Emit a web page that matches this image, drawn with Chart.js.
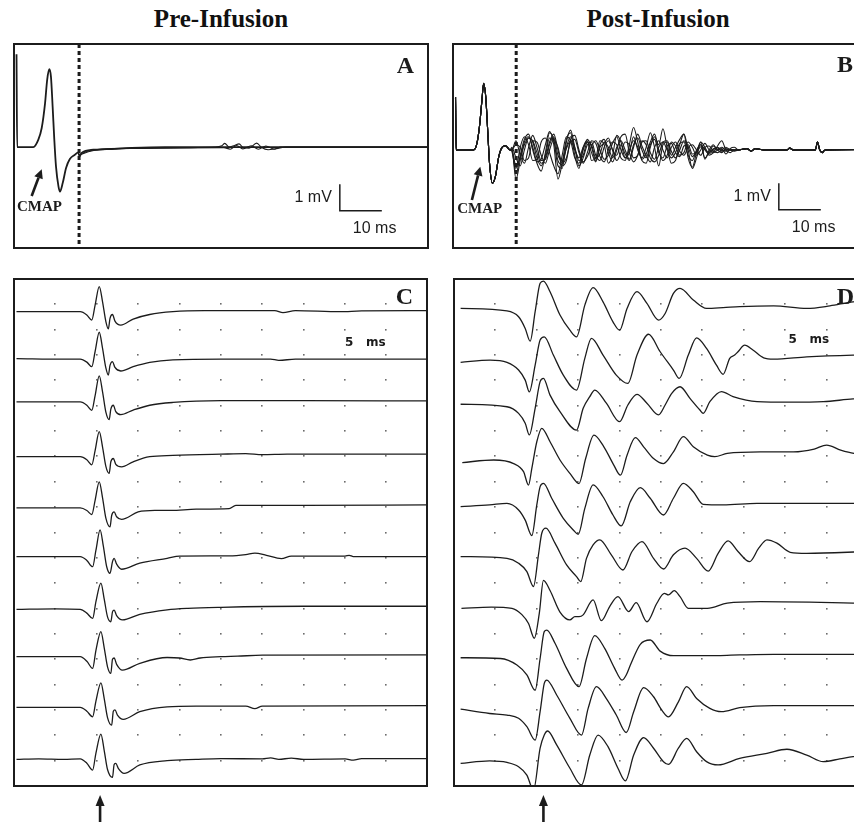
<!DOCTYPE html>
<html>
<head>
<meta charset="utf-8">
<title>Pre- and post-infusion recordings</title>
<script src="https://cdn.jsdelivr.net/npm/chart.js@4.4.1/dist/chart.umd.min.js"></script>
<style>
  html, body { margin: 0; padding: 0; background: #fff; }
  body { position: relative; width: 854px; height: 822px; overflow: hidden; }
  canvas { position: absolute; left: 0; top: 0; }
  .heading { position: absolute; top: 5px; transform: translateX(-50%); white-space: nowrap;
             font: bold 25px/28px "Liberation Serif", "Times New Roman", serif; color: #111; }
</style>
</head>
<body>
<div class="heading" style="left:221px">Pre-Infusion</div>
<div class="heading" style="left:658px">Post-Infusion</div>
<canvas id="panelA" width="880" height="822"></canvas>
<canvas id="panelB" width="880" height="822"></canvas>
<canvas id="panelC" width="880" height="822"></canvas>
<canvas id="panelD" width="880" height="822"></canvas>
<script>
// ---------- A: pre-infusion, superimposed sweeps  [ms, mV] ----------
const sweepA1 = [[0.6,3.5],[0.75,0],[4.6,0],[5.8,0.28],[6.6,0.72],[7.4,1.66],[7.9,2.54],[8.4,2.94],[8.8,2.66],
  [9.2,1.53],[9.6,0.28],[10.0,-0.73],[10.6,-1.49],[10.95,-1.68],[11.6,-1.36],[12.4,-0.79],[13.3,-0.45],
  [14.5,-0.29],[15.3,-0.2],[15.6,-0.35],[16.1,-0.22],[18.9,-0.1],[22,-0.08],[28,-0.03],[36,0],[98.6,0]];
const sweepA2 = [[15.5,-0.3],[16.1,-0.24],[19,-0.11],[30,-0.04],[48,0],[49.5,0.05],[50.2,0.14],[51.2,0],
  [52.5,0.06],[53.6,0.12],[54.6,-0.02],[56,-0.04],[57.8,0.15],[59,-0.02],[60.5,-0.1],[62.5,-0.06],[64.8,0],[98.6,0]];
const sweepA3 = [[15.5,-0.32],[16.1,-0.27],[19,-0.13],[30,-0.05],[50,-0.02],[51.5,-0.08],[53,0.06],[54.5,-0.07],
  [56.5,0.05],[58.2,-0.08],[60,0.04],[62,-0.08],[63.5,0],[98.6,0]];

// ---------- B: post-infusion, CMAP followed by repetitive discharges ----------
const cmapB = [[0.6,2.0],[0.75,0],[4.9,0],[5.7,0.25],[6.3,0.88],[6.9,1.89],[7.3,2.52],[7.8,2.0],[8.3,0.63],
  [8.7,-0.5],[9.4,-1.26],[10.1,-1.0],[10.9,-0.25],[11.7,0.1],[12.5,0.16],[13.6,0]];
const tNoiseB = [14,15,16,17,18,19,20,21,22,23, 24,25,26,27,28,29,30,31,32,33, 34,35,36,37,38,39,40,41,42,43,
  44,45,46,47,48,49,50,51,52,53, 54,55,56,57,58,59,60,61,62,63, 64,65,66,67,68];
const noiseB1 = [0,-0.6,-0.3,0.2,0.45,0.3,-0.3,-0.6,-0.2,0.45, 0.35,-0.4,-0.55,0.1,0.5,0.1,-0.4,-0.2,0.3,0.2,
  -0.3,-0.15,0.3,0.1,-0.3,0.1,0.35,0,-0.35,0.2, 0.45,0,-0.3,0.2,0.4,-0.1,-0.3,0.15,0.25,-0.1,
  -0.25,0.15,0.2,-0.15,-0.1,0.12,0.05,-0.1,0.05,0.08, -0.05,0,0.03,0,0];
const noiseB2 = [0.05,-1.1,-0.4,0.3,0.5,0.1,-0.5,-0.8,-0.1,0.65, 0.4,-0.6,-0.7,0.3,0.75,0.1,-0.6,-0.3,0.2,0.3,
  -0.2,-0.4,0.1,0.35,0,-0.4,-0.1,0.3,0.2,-0.3, -0.2,0.3,0.35,-0.1,-0.35,0.1,0.3,0,-0.3,-0.1,
  0.25,0.3,-0.2,-0.4,0,0.2,0,-0.15,0,0.1, 0,-0.05,0,0,0];
const noiseB3 = [0,0.2,0.1,-0.4,-0.3,0.35,0.3,-0.2,-0.5,0, 0.4,0.1,-0.5,-0.3,0.3,0.4,-0.1,-0.5,-0.1,0.35,
  0.25,-0.25,-0.45,0,0.3,0.2,-0.3,-0.4,0.2,0.85, 0.3,-0.4,-0.5,0.1,0.5,0.2,0.8,0.1,-0.5,-0.4,
  0.2,0.6,0,-0.7,-0.3,0.3,0.1,-0.2,-0.1,0.15, 0.35,0,-0.1,0,0];
const noiseB4 = [-0.05,-0.7,0.1,0.5,0.2,-0.4,-0.35,0.3,0.45,-0.1, -0.6,-0.9,-0.2,0.5,0.35,-0.3,-0.5,0,0.4,0.1,
  -0.4,0.2,0.4,-0.1,-0.45,0,0.5,0.6,-0.1,-0.45, -0.2,0.35,0.2,-0.3,-0.45,-0.2,0.3,0.35,-0.05,-0.3,
  0,0.35,0.1,-0.25,-0.05,0.2,-0.3,-0.1,0.15,0, -0.1,0.05,0,0,0];
const noiseB5 = [0.1,-0.3,-0.6,0,0.45,0.35,-0.1,-0.5,-0.3,0.3, 0.6,0,-0.6,-0.4,0.4,0.55,0,-0.45,-0.25,0.15,
  0.35,0,-0.35,-0.2,0.25,0.5,0,-0.3,0,0.35, 0.1,-0.35,-0.15,0.3,0.6,0,-0.4,-0.2,0.3,0.15,
  -0.2,-0.1,0.3,0.1,-0.2,0,0.25,0,-0.1,0, 0.1,0,0,0,0];
const noiseB6 = [0,0.35,-0.2,-0.5,0.1,0.55,0.1,-0.4,-0.35,0.2, 0.5,-0.2,-0.4,0.05,0.35,0,-0.3,0.1,0.3,-0.1,
  -0.45,0.1,0.25,0.45,0,-0.2,0.2,-0.15,-0.4,0.1, 0.6,0.15,-0.2,-0.45,0.1,0.35,0,-0.3,0.1,0.3,
  -0.05,-0.2,0.1,0.2,0,-0.2,0.1,0.15,-0.05,-0.1, 0,0.1,0,-0.05,0];
const noiseB7 = [0,-0.9,-0.2,0.4,0.6,0,-0.45,-0.35,0.2,0.7, 0.2,-1.1,-0.5,0.4,0.65,-0.2,-0.7,0.1,0.35,-0.4,
  -0.3,0.35,0.2,-0.5,-0.2,0.55,0.3,-0.3,-0.1,0.5, 0,-0.3,0.1,0.65,0.1,-0.6,0.2,0.3,-0.2,0.1,
  0.4,0.6,-0.3,-0.65,-0.1,0.3,-0.35,0,0.2,0, 0.05,-0.15,0.05,0.1,0];
const tailB = [[70,0.05],[71,-0.05],[72,0.05],[74,0],[79.5,0],[80.2,0.07],[81,0],[86.3,0],[86.8,0.3],
  [87.3,0.02],[87.9,-0.1],[88.6,0],[98.6,0.02]];

// ---------- C: pre-infusion consecutive sweeps  [ms, div] ----------
const baseC = [18.71, 16.84, 15.15, 12.99, 10.97, 9.05, 6.97, 5.1, 3.1, 1.05];
const traceC1 = [[0.3,0],[8.0,0],[8.8,-0.13],[9.4,-0.33],[9.8,0.26],[10.3,0.99],[10.7,0.39],[11.1,-0.39],[11.4,-0.68],
  [11.6,-0.26],[11.9,-0.11],[12.2,-0.37],[12.9,-0.53],[14.4,-0.29],[16.4,-0.11],[19.2,0],[23,0.04],[31.5,0.04],
  [32.5,-0.04],[34,0.04],[39.4,0],[42,0.03],[49.9,0.04]];
const traceC2 = [[0.3,0.02],[6,0],[8.0,0],[8.8,-0.12],[9.4,-0.3],[9.8,0.3],[10.3,1.06],[10.7,0.42],[11.1,-0.35],
  [11.4,-0.63],[11.6,-0.25],[11.9,-0.1],[12.2,-0.33],[12.9,-0.47],[14.4,-0.3],[16.4,-0.13],[19.2,-0.03],[25,0],
  [31,0],[32,-0.05],[34,0],[49.9,0]];
const traceC3 = [[0.3,0],[8.0,0],[8.8,-0.13],[9.4,-0.33],[9.8,0.25],[10.3,1.03],[10.7,0.4],[11.1,-0.4],[11.5,-0.7],
  [11.7,-0.28],[12.0,-0.13],[12.3,-0.38],[12.9,-0.5],[14.4,-0.32],[16.4,-0.13],[19.2,-0.02],[25,0.05],[35,0.05],[49.9,0.04]];
const traceC4 = [[0.3,0],[8.0,0],[8.8,-0.12],[9.4,-0.32],[9.8,0.24],[10.3,0.99],[10.7,0.38],[11.1,-0.38],[11.5,-0.66],
  [11.7,-0.2],[12.0,-0.07],[12.3,-0.3],[13.0,-0.4],[14.4,-0.2],[16.4,0],[19.2,0.05],[25,0.1],[28,0.12],[30,0.08],
  [33,0.1],[36,0.1],[49.9,0.1]];
const traceC5 = [[0.3,0],[8.0,0],[8.8,-0.1],[9.4,-0.26],[9.8,0.3],[10.3,1.03],[10.7,0.4],[11.1,-0.4],[11.6,-0.75],
  [11.8,-0.3],[12.1,-0.16],[12.4,-0.35],[13.0,-0.45],[15.0,-0.16],[17.0,-0.1],[19,-0.1],[22,-0.05],[26,-0.03],
  [26.8,0.1],[35,0.1],[49.9,0.12]];
const traceC6 = [[0.3,0],[8.0,0],[8.8,-0.15],[9.5,-0.4],[9.9,0.25],[10.4,1.05],[10.8,0.4],[11.2,-0.4],[11.6,-0.66],
  [11.9,-0.2],[12.1,-0.07],[12.4,-0.3],[13.0,-0.5],[15.2,-0.26],[18.5,-0.07],[20,0.02],[26,0.03],[28,0.08],
  [29.1,0.14],[30.5,0.05],[32.3,-0.08],[33.5,0.02],[40,0.02],[40.5,0.05],[41,0],[49.9,0]];
const traceC7 = [[0.3,0],[5,0.02],[8.0,0],[8.8,-0.15],[9.5,-0.36],[9.9,0.3],[10.5,1.03],[10.9,0.4],[11.3,-0.3],
  [11.7,-0.49],[11.9,-0.1],[12.1,-0.03],[12.4,-0.25],[13.1,-0.42],[15.2,-0.2],[18.5,-0.02],[21,0.04],[25,0.08],
  [35,0.12],[49.9,0.12]];
const traceC8 = [[0.3,0],[8.0,0],[8.8,-0.18],[9.5,-0.46],[9.9,0.25],[10.5,0.99],[10.9,0.35],[11.3,-0.4],[11.7,-0.66],
  [11.9,-0.1],[12.1,-0.05],[12.4,-0.3],[13.1,-0.53],[15.2,-0.26],[18.5,-0.03],[20,-0.05],[21.3,-0.13],[22.5,-0.05],
  [25,0],[27,0.02],[30,0.06],[49.9,0.07]];
const traceC9 = [[0.3,0],[8.0,0],[8.8,-0.15],[9.5,-0.37],[9.9,0.25],[10.5,0.97],[10.9,0.35],[11.3,-0.4],[11.8,-0.7],
  [12.0,-0.15],[12.2,-0.1],[12.5,-0.3],[13.2,-0.47],[15.2,-0.17],[18.5,0.02],[22,0.05],[28,0.05],[29.1,-0.05],
  [30,0.05],[49.9,0.07]];
const traceC10 = [[0.3,0],[3,0.02],[6,0],[8.0,0.02],[8.8,-0.15],[9.5,-0.42],[9.9,0.25],[10.5,1.0],[10.9,0.35],
  [11.3,-0.4],[11.9,-0.71],[12.1,-0.2],[12.3,-0.16],[12.6,-0.35],[13.3,-0.55],[15.2,-0.22],[18.5,-0.05],[22,0],
  [25,0.03],[30,0.02],[31,0.06],[32,0],[33.5,0.05],[35,0],[40,0.02],[41,-0.03],[42,0.03],[49.9,0.03]];

// ---------- D: post-infusion consecutive sweeps  [ms, div] ----------
const baseD = [18.84, 16.71, 15.03, 12.79, 11.02, 9.05, 7.01, 5.06, 3.06, 0.96];
const traceD1 = [[0.8,0],[6.4,-0.1],[7.8,-0.33],[8.6,-0.79],[9.2,-1.29],[9.8,-0.13],[10.4,0.99],[10.8,1.08],
  [11.6,0.66],[12.8,-0.26],[14.0,-0.86],[14.8,-1.12],[15.8,0.13],[16.8,0.82],[18.0,0.26],[19.2,-0.53],[20.0,-0.86],
  [20.9,0],[22.1,0.66],[23.3,0.2],[24.7,-0.46],[25.5,-0.2],[26.5,0.59],[27.3,0.79],[28.9,0.33],[30.5,0],
  [32.5,0.03],[34.5,0.07],[38.6,0.1],[42.6,0],[45.4,0.1],[48.2,0.26],[50,0.3]];
const traceD2 = [[0.8,0],[4.35,0.09],[6.4,0],[7.8,-0.3],[8.6,-0.7],[9.1,-1.16],[9.8,-0.11],[10.4,0.88],[10.9,1.01],
  [12.0,0.29],[13.2,-0.5],[14.8,-1.09],[15.8,0.16],[16.6,0.95],[18.0,0.29],[19.6,-0.5],[21.0,-0.83],[22.1,0.29],
  [23.5,1.11],[24.9,0.42],[26.5,-0.3],[27.2,-0.63],[28.3,0.29],[29.3,0.97],[30.5,0.55],[31.7,-0.11],[32.5,-0.47],
  [33.3,0.16],[33.9,0.29],[34.3,0.42],[35.1,0.68],[36.1,0.49],[37.4,0.18],[38.6,0.13],[42.6,0.22],[48.2,0.29],[50,0.3]];
const traceD3 = [[0.8,0.03],[6.4,-0.07],[7.8,-0.33],[8.6,-0.72],[9.1,-1.18],[9.8,-0.13],[10.4,0.92],[10.8,1.05],
  [11.6,0.39],[12.8,-0.26],[14.8,-0.99],[15.6,-0.13],[16.4,0.33],[17.0,0.59],[18.4,0.07],[20.0,-0.66],[21.0,0],
  [22.1,0.42],[23.3,0.07],[24.7,-0.39],[25.5,0],[26.3,0.46],[27.3,0.72],[28.5,0.26],[29.7,-0.2],[30.1,-0.33],
  [30.9,0.13],[32.3,0.53],[33.7,0.33],[36.6,0.13],[40.6,0.11],[44.6,0.13],[48.2,0.24],[50,0.26]];
const traceD4 = [[1.0,-0.03],[4.8,0.07],[7.2,-0.07],[8.4,-0.39],[9.0,-0.92],[9.4,-0.26],[10.0,0.79],[10.6,1.32],
  [11.6,0.79],[12.8,0.07],[14.0,-0.46],[15.1,-0.86],[15.9,0.13],[16.9,1.05],[18.1,0.59],[19.3,-0.13],[20.1,-0.53],
  [20.9,0.26],[21.9,0.95],[22.9,0.59],[24.1,0.13],[25.3,-0.07],[26.5,0.39],[27.7,0.99],[28.9,0.59],[30.6,0.26],
  [31.5,0.2],[33,0.33],[37.0,0.39],[41.0,0.39],[43.5,0.5],[45.0,0.66],[46.7,0.46],[48.3,0.33],[50,0.3]];
const traceD5 = [[0.8,0],[4.3,0.07],[6.4,0.13],[7.8,-0.13],[8.6,-0.53],[9.4,-1.14],[10.0,0.07],[10.4,0.79],[10.8,0.92],
  [11.8,0.33],[13.2,-0.46],[14.4,-0.92],[15.0,-1.09],[15.8,-0.07],[16.8,0.86],[18.0,0.39],[19.2,-0.33],[20.2,-0.76],
  [21.3,0.2],[22.5,0.75],[23.7,0.33],[25.3,-0.33],[26.5,0.33],[27.7,0.92],[28.9,0.59],[30.1,0.09],[32.5,0.07],
  [36.6,0.13],[42.6,0.13],[50,0.13]];
const traceD6 = [[0.8,0],[6.4,-0.07],[7.8,-0.26],[8.8,-0.59],[9.6,-1.18],[10.2,0.07],[10.6,0.92],[11.1,1.12],
  [12.2,0.53],[13.6,-0.33],[14.8,-0.79],[15.3,-0.99],[16.0,-0.07],[16.8,0.46],[17.6,0.66],[19.0,0.07],[20.4,-0.53],
  [21.5,0.2],[22.7,0.59],[24.1,-0.07],[25.3,-0.49],[26.5,0.07],[27.9,0.33],[29.3,-0.07],[30.7,-0.57],[31.9,0.13],
  [33.1,0.62],[34.3,0.2],[35.7,-0.2],[36.8,0.33],[37.8,0.66],[39.0,0.53],[40.6,0.17],[42.6,0.13],[50,0.2]];
const traceD7 = [[0.9,0],[4.5,0.05],[7.0,0],[8.2,-0.25],[9.0,-0.6],[9.7,-1.18],[10.3,-0.2],[10.8,1.1],[11.6,0.7],
  [12.8,-0.15],[14.0,-0.46],[14.6,-0.33],[15.1,-0.33],[15.6,-0.26],[16.8,0.33],[17.8,-0.49],[18.8,0.07],[19.8,0.46],
  [21.1,-0.13],[22.0,0.22],[23.3,-0.53],[24.5,0.2],[25.4,0.59],[25.9,0.53],[26.6,0.7],[27.3,0.46],[28.3,0],
  [30.6,0],[33,0.2],[37,0.26],[50,0.2]];
const traceD8 = [[0.8,0],[5.6,-0.03],[7.6,-0.29],[8.8,-0.68],[9.8,-1.28],[10.4,-0.03],[10.9,1.03],[11.2,1.09],
  [12.2,0.57],[13.6,-0.42],[15.1,-1.14],[16.0,-0.03],[17.0,0.87],[18.2,0.37],[19.4,-0.42],[20.3,-0.88],[20.8,-0.68],
  [21.3,-0.29],[22.5,0.53],[23.7,0.7],[24.9,0.26],[26.5,0.08],[30.5,0.08],[34.5,0.11],[38.6,0.13],[50,0.13]];
const traceD9 = [[0.8,-0.03],[4.3,-0.2],[6.4,-0.26],[7.8,-0.39],[8.8,-0.72],[9.8,-1.25],[10.4,-0.13],[10.9,0.99],
  [11.2,1.12],[12.4,0.53],[14.0,-0.39],[15.4,-1.05],[16.2,0],[17.2,0.86],[18.4,0.39],[19.6,-0.26],[20.8,-0.95],
  [21.7,-0.13],[22.9,0.82],[24.1,0.46],[25.1,-0.07],[25.9,-0.33],[27.1,0.26],[28.1,0.86],[29.3,0.39],[30.9,0],
  [32.3,-0.13],[34.5,0.03],[38.6,0.11],[50,0.11]];
const traceD10 = [[0.8,-0.07],[4.3,0.03],[6.4,-0.03],[7.8,-0.2],[8.8,-0.53],[9.6,-1.12],[10.4,0.53],[10.9,1.05],
  [11.3,1.21],[12.4,0.66],[14.0,-0.26],[15.4,-0.92],[16.4,0.26],[17.4,1.05],[18.6,0.59],[19.8,-0.26],[20.7,-0.76],
  [21.7,0.26],[22.9,0.95],[24.1,0.53],[25.3,0],[25.9,-0.11],[27.1,0.53],[28.1,0.92],[29.3,0.39],[30.5,0],
  [31.9,-0.13],[34.5,0.13],[37.8,0.33],[40.2,0.49],[42.6,0.26],[44.6,0],[46.6,0.11],[48.2,0.2],[50,0.22]];

// dot grid of the sweep displays (every 5 ms, every division)
const gridTimes = [5, 10, 15, 20, 25, 30, 35, 40, 45];
const gridLevels = [1, 2, 3, 4, 5, 6, 7, 8, 9, 10, 11, 12, 13, 14, 15, 16, 17, 18, 19];

const INK = '#1c1c1c';
const CANVAS_W = 880, CANVAS_H = 822;

function pts(pairs, base = 0) {
  return pairs.map(([t, v]) => ({ x: t, y: v + base }));
}

function trace(data, width) {
  return { data, borderColor: INK, borderWidth: width, pointRadius: 0, fill: false,
           cubicInterpolationMode: 'monotone' };
}

function arrow(ctx, x0, y0, x1, y1, head, half, width) {
  const ang = Math.atan2(y1 - y0, x1 - x0);
  const bx = x1 - head * Math.cos(ang), by = y1 - head * Math.sin(ang);
  ctx.save();
  ctx.strokeStyle = INK; ctx.fillStyle = INK; ctx.lineWidth = width;
  ctx.beginPath(); ctx.moveTo(x0, y0); ctx.lineTo(bx, by); ctx.stroke();
  ctx.beginPath();
  ctx.moveTo(x1, y1);
  ctx.lineTo(bx + half * Math.sin(ang), by - half * Math.cos(ang));
  ctx.lineTo(bx - half * Math.sin(ang), by + half * Math.cos(ang));
  ctx.closePath(); ctx.fill();
  ctx.restore();
}

// frame, panel letter and the annotations of each panel
function decor(o) {
  return {
    id: 'decor',
    beforeDatasetsDraw(chart) {
      if (!o.dots) return;
      const { ctx, scales: { x, y } } = chart;
      ctx.save(); ctx.fillStyle = '#6c6c6c';
      gridTimes.forEach(t => gridLevels.forEach(v => {
        ctx.fillRect(Math.round(x.getPixelForValue(t)) - 1, Math.round(y.getPixelForValue(v)) - 1, 1.6, 1.6);
      }));
      ctx.restore();
    },
    afterDatasetsDraw(chart) {
      const { ctx, chartArea: a, scales: { x, y } } = chart;
      ctx.save();
      ctx.strokeStyle = INK; ctx.fillStyle = INK;

      if (o.stim != null) {   // stimulus marker
        const sx = x.getPixelForValue(o.stim);
        ctx.lineWidth = 3; ctx.setLineDash([4, 3]);
        ctx.beginPath(); ctx.moveTo(sx, a.top); ctx.lineTo(sx, a.bottom); ctx.stroke();
        ctx.setLineDash([]);
      }

      ctx.lineWidth = 2;
      ctx.strokeRect(a.left, a.top, a.right - a.left, a.bottom - a.top);

      ctx.font = 'bold 24px "Liberation Serif", "Times New Roman", serif';
      ctx.textAlign = 'right'; ctx.textBaseline = 'alphabetic';
      ctx.fillText(o.letter, a.right - 14, a.top + o.letterDrop);

      if (o.bar) {   // 1 mV / 10 ms calibration
        const x0 = x.getPixelForValue(o.bar.t), x1 = x.getPixelForValue(o.bar.t + 10);
        const y0 = y.getPixelForValue(o.bar.v), y1 = y.getPixelForValue(o.bar.v + 1);
        ctx.lineWidth = 1.5;
        ctx.beginPath(); ctx.moveTo(x0, y1); ctx.lineTo(x0, y0); ctx.lineTo(x1, y0); ctx.stroke();
        ctx.font = '16px "Liberation Sans", Arial, sans-serif';
        ctx.textBaseline = 'middle';
        ctx.textAlign = 'right'; ctx.fillText('1 mV', x0 - 8, (y0 + y1) / 2);
        ctx.textAlign = 'left'; ctx.fillText('10 ms', x0 + 13, y0 + 18);
      }

      if (o.cmap) {
        const c = o.cmap;
        ctx.font = 'bold 15px "Liberation Serif", "Times New Roman", serif';
        ctx.textAlign = 'left'; ctx.textBaseline = 'alphabetic';
        ctx.fillText('CMAP', x.getPixelForValue(c.text[0]), y.getPixelForValue(c.text[1]));
        arrow(ctx, x.getPixelForValue(c.tail[0]), y.getPixelForValue(c.tail[1]),
              x.getPixelForValue(c.head[0]), y.getPixelForValue(c.head[1]), 9, 4.5, 2.6);
      }

      if (o.msLabel) {
        ctx.font = 'bold 12px "DejaVu Sans", sans-serif';
        ctx.textAlign = 'left'; ctx.textBaseline = 'middle';
        ctx.fillText('5   ms', x.getPixelForValue(o.msLabel.t), y.getPixelForValue(o.msLabel.v));
      }

      if (o.pointer != null) {   // arrow under the sweep stack
        const px = x.getPixelForValue(o.pointer);
        arrow(ctx, px, CANVAS_H + 2, px, a.bottom + 9, 11, 4.5, 2.6);
      }
      ctx.restore();
    }
  };
}

function panel(id, box, xMax, yMin, yMax, datasets, o) {
  return new Chart(document.getElementById(id), {
    type: 'line',
    data: { datasets },
    options: {
      responsive: false, animation: false, events: [],
      layout: { padding: { left: box[0], top: box[1], right: CANVAS_W - box[2], bottom: CANVAS_H - box[3] } },
      scales: {
        x: { type: 'linear', display: false, min: 0, max: xMax },
        y: { type: 'linear', display: false, min: yMin, max: yMax }
      },
      plugins: { legend: { display: false }, tooltip: { enabled: false } }
    },
    plugins: [decor(o)]
  });
}

// A
panel('panelA', [14, 44, 428, 248], 98.6, -3.81, 3.89,
  [trace(pts(sweepA1), 1.8), trace(pts(sweepA2), 1.1), trace(pts(sweepA3), 1.1)],
  { letter: 'A', letterDrop: 29, stim: 15.5, bar: { t: 77.6, v: -2.4 },
    cmap: { text: [0.7, -2.42], tail: [4.2, -1.85], head: [6.6, -0.84] } });

// B
const noiseB = [noiseB1, noiseB2, noiseB3, noiseB4, noiseB5, noiseB6, noiseB7];
panel('panelB', [453, 44, 867, 248], 98.6, -3.7, 4.0,
  noiseB.map(vals => trace([
    ...pts(cmapB),
    ...vals.map((v, i) => ({ x: tNoiseB[i], y: v })),
    ...pts(tailB)
  ], 1.1)),
  { letter: 'B', letterDrop: 28, stim: 15.05, bar: { t: 77.6, v: -2.26 },
    cmap: { text: [1.0, -2.38], tail: [4.5, -1.89], head: [6.5, -0.63] } });

// C
const tracesC = [traceC1, traceC2, traceC3, traceC4, traceC5, traceC6, traceC7, traceC8, traceC9, traceC10];
panel('panelC', [14, 279, 427, 786], 49.9, 0, 20,
  tracesC.map((tr, i) => trace(pts(tr, baseC[i]), 1.3)),
  { letter: 'C', letterDrop: 25, dots: true, msLabel: { t: 40, v: 17.5 }, pointer: 10.4 });

// D
const tracesD = [traceD1, traceD2, traceD3, traceD4, traceD5, traceD6, traceD7, traceD8, traceD9, traceD10];
panel('panelD', [454, 279, 868, 786], 50, 0, 20,
  tracesD.map((tr, i) => trace(pts(tr, baseD[i]), 1.3)),
  { letter: 'D', letterDrop: 25, dots: true, msLabel: { t: 40.4, v: 17.6 }, pointer: 10.8 });
</script>
</body>
</html>
